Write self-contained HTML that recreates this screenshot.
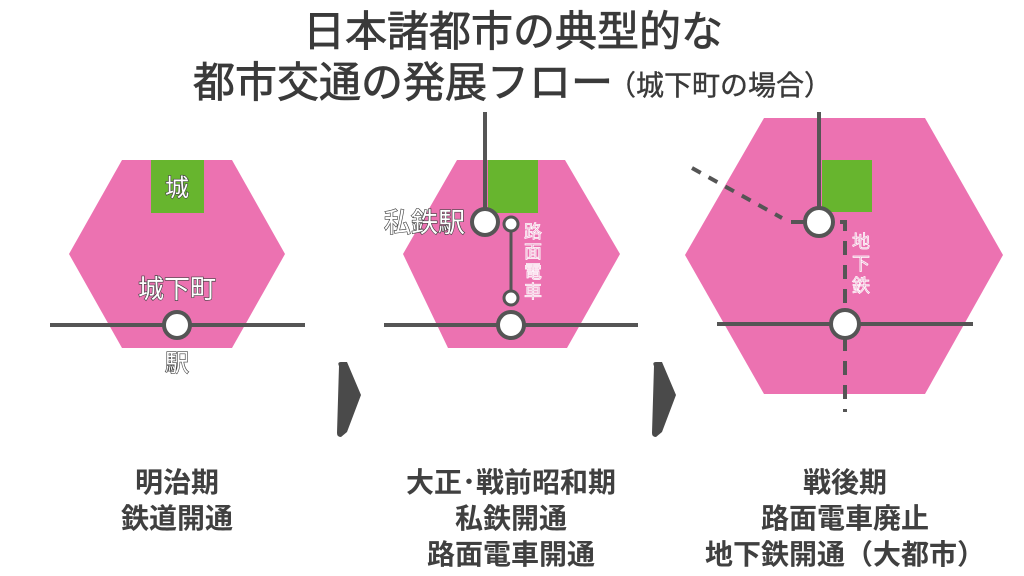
<!DOCTYPE html>
<html><head><meta charset="utf-8"><style>
html,body{margin:0;padding:0;background:#fff;}
svg{display:block}
text{font-family:"Liberation Sans","Noto Sans CJK JP",sans-serif;}
.t{fill:#404040;font-weight:bold;}
.h{fill:#3a3a3a;font-weight:normal;stroke:#3a3a3a;stroke-width:0.8;}
.lab{fill:#fff;stroke:#444;stroke-width:1.3;paint-order:stroke;font-weight:normal;}
.vl{fill:#e9a2c9;stroke:#fff;stroke-width:0.7;font-size:18px;font-weight:normal;}
</style></head><body>
<svg width="1024" height="576" viewBox="0 0 1024 576" xmlns="http://www.w3.org/2000/svg">
<g class="h">
<text x="513" y="46" font-size="42" text-anchor="middle">日本諸都市の典型的な</text>
<text x="193" y="97" font-size="42">都市交通の発展フロー</text>
<text x="608" y="95" font-size="28" stroke-width="0.4">（城下町の場合）</text>
</g>
<!-- Panel 1 -->
<polygon points="122,160 232,160 285,254 232,348 122,348 69,254" fill="#ec72b1"/>
<rect x="151" y="160" width="53" height="53" fill="#67b52e"/>
<text x="177" y="196" font-size="24" text-anchor="middle" class="lab">城</text>
<text x="177" y="298" font-size="26" text-anchor="middle" class="lab">城下町</text>
<line x1="50" y1="325" x2="305" y2="325" stroke="#555" stroke-width="4"/>
<circle cx="177" cy="325" r="13" fill="#fff" stroke="#555" stroke-width="4"/>
<text x="177" y="371" font-size="24" text-anchor="middle" class="lab">駅</text>
<!-- Panel 2 -->
<polygon points="457,160 565,160 620,254 567,348 448,348 403,254" fill="#ec72b1"/>
<rect x="488" y="160" width="50" height="53" fill="#67b52e"/>
<line x1="485" y1="112" x2="485" y2="222" stroke="#555" stroke-width="4"/>
<line x1="511" y1="224" x2="511" y2="298" stroke="#555" stroke-width="3"/>
<line x1="384" y1="325" x2="638" y2="325" stroke="#555" stroke-width="4"/>
<circle cx="485" cy="222" r="13" fill="#fff" stroke="#555" stroke-width="4"/>
<circle cx="511" cy="224" r="7" fill="#fff" stroke="#555" stroke-width="3"/>
<circle cx="511" cy="298" r="7" fill="#fff" stroke="#555" stroke-width="3"/>
<circle cx="511" cy="325" r="13" fill="#fff" stroke="#555" stroke-width="4"/>
<text x="465" y="232" font-size="27" text-anchor="end" class="lab">私鉄駅</text>
<g class="vl" text-anchor="middle">
<text x="533" y="238">路</text><text x="533" y="258">面</text><text x="533" y="278">電</text><text x="533" y="298">車</text>
</g>
<!-- Panel 3 -->
<polygon points="764,118 925,118 1003,255 925,394 764,394 685,255" fill="#ec72b1"/>
<rect x="822" y="160" width="50" height="52" fill="#67b52e"/>
<line x1="819" y1="112" x2="819" y2="222" stroke="#555" stroke-width="4"/>
<polyline points="692,168 782,218" fill="none" stroke="#555" stroke-width="4" stroke-dasharray="10,9"/>
<line x1="791" y1="222" x2="805" y2="222" stroke="#555" stroke-width="4"/>
<polyline points="840,222 845,222 845,412" fill="none" stroke="#555" stroke-width="4" stroke-dasharray="14,10"/>
<line x1="717" y1="324" x2="973" y2="324" stroke="#555" stroke-width="4"/>
<circle cx="819" cy="222" r="14" fill="#fff" stroke="#555" stroke-width="4"/>
<circle cx="845" cy="324" r="14" fill="#fff" stroke="#555" stroke-width="4"/>
<g class="vl" text-anchor="middle">
<text x="861" y="248">地</text><text x="861" y="270">下</text><text x="861" y="292">鉄</text>
</g>
<!-- Arrows -->
<path d="M339,366 Q337,362 341,362 L347,362 L361,395 L347,432 L341,437 Q337,437 337,433 Z" fill="#4a4a4a"/>
<path d="M654,366 Q652,362 656,362 L662,362 L676,395 L662,432 L656,437 Q652,437 652,433 Z" fill="#4a4a4a"/>
<!-- Labels -->
<g class="t" font-size="28" text-anchor="middle">
<text x="177" y="492">明治期</text>
<text x="177" y="528">鉄道開通</text>
<text x="511" y="492">大正･戦前昭和期</text>
<text x="511" y="528">私鉄開通</text>
<text x="511" y="564">路面電車開通</text>
<text x="845" y="492">戦後期</text>
<text x="845" y="528">路面電車廃止</text>
<text x="845" y="564">地下鉄開通（大都市）</text>
</g>
</svg>
</body></html>
